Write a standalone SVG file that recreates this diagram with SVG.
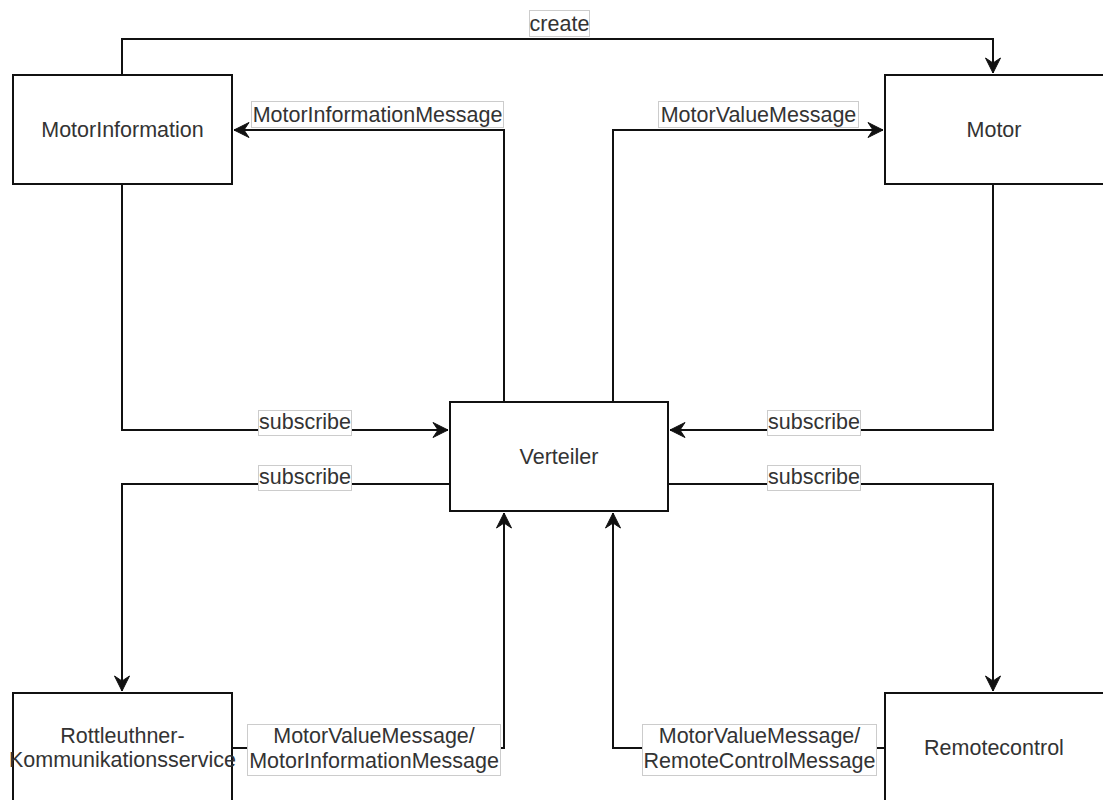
<svg xmlns="http://www.w3.org/2000/svg" width="1103" height="800" viewBox="0 0 1103 800">
<style>
.node rect{fill:#fff;stroke:#111;stroke-width:2}
.node text{font-family:"Liberation Sans",Arial,sans-serif;font-size:21.5px;fill:#333;text-anchor:middle}
.conn path{fill:none;stroke:#111;stroke-width:2;marker-end:url(#arr)}
.lbl rect{fill:#fff;stroke:#ccc;stroke-width:1}
.lbl text{font-family:"Liberation Sans",Arial,sans-serif;font-size:21.5px;fill:#333;text-anchor:middle}
</style>
<defs>
<marker id="arr" markerUnits="userSpaceOnUse" viewBox="-16 -9 17 18" refX="0" refY="0" markerWidth="17" markerHeight="18" orient="auto">
<path d="M0,0 L-15,-7.5 L-10,0 L-15,7.5 Z" fill="#111" stroke="#111" stroke-width="1"/>
</marker>
</defs>
<rect width="1103" height="800" fill="#fff"/>
<g id="connectors" class="conn">
<path d="M122,75 V39 H993 V73"/>
<path d="M504,402 V130 H234"/>
<path d="M613,402 V130 H883"/>
<path d="M122,184 V430 H448"/>
<path d="M993,184 V430 H670"/>
<path d="M450,484 H122 V691"/>
<path d="M668,484 H993 V691"/>
<path d="M232,748 H504 V513"/>
<path d="M885,748 H613 V513"/>
</g>
<g id="labels" class="lbl">
<g id="lbl-create"><rect x="529.5" y="10.5" width="60" height="26"/><text x="559.5" y="31">create</text></g>
<g id="lbl-mim"><rect x="251.5" y="101.5" width="252" height="26"/><text x="377.5" y="122">MotorInformationMessage</text></g>
<g id="lbl-mvm"><rect x="658.5" y="101.5" width="200" height="26"/><text x="758.5" y="122">MotorValueMessage</text></g>
<g id="lbl-sub1"><rect x="258.5" y="410.5" width="93" height="25"/><text x="305" y="429">subscribe</text></g>
<g id="lbl-sub2"><rect x="767.5" y="410.5" width="93" height="25"/><text x="814" y="429">subscribe</text></g>
<g id="lbl-sub3"><rect x="258.5" y="465.5" width="93" height="25"/><text x="305" y="484">subscribe</text></g>
<g id="lbl-sub4"><rect x="767.5" y="465.5" width="93" height="25"/><text x="814" y="484">subscribe</text></g>
<g id="lbl-rott"><rect x="247.5" y="724.5" width="253" height="51"/><text x="374" y="743">MotorValueMessage/</text><text x="374" y="768">MotorInformationMessage</text></g>
<g id="lbl-remote"><rect x="642.5" y="724.5" width="234" height="51"/><text x="759.5" y="743">MotorValueMessage/</text><text x="759.5" y="768">RemoteControlMessage</text></g>
</g>
<g id="node-motorinformation" class="node"><rect x="13" y="75" width="219" height="109"/><text x="122.5" y="137">MotorInformation</text></g>
<g id="node-motor" class="node"><rect x="885" y="75" width="219" height="109"/><text x="994" y="137">Motor</text></g>
<g id="node-verteiler" class="node"><rect x="450" y="402" width="218" height="109"/><text x="559" y="464">Verteiler</text></g>
<g id="node-rottleuthner" class="node"><rect x="13" y="693" width="219" height="109"/><text x="122.5" y="743">Rottleuthner-</text><text x="122.5" y="767">Kommunikationsservice</text></g>
<g id="node-remotecontrol" class="node"><rect x="885" y="693" width="219" height="109"/><text x="994" y="755">Remotecontrol</text></g>
</svg>
